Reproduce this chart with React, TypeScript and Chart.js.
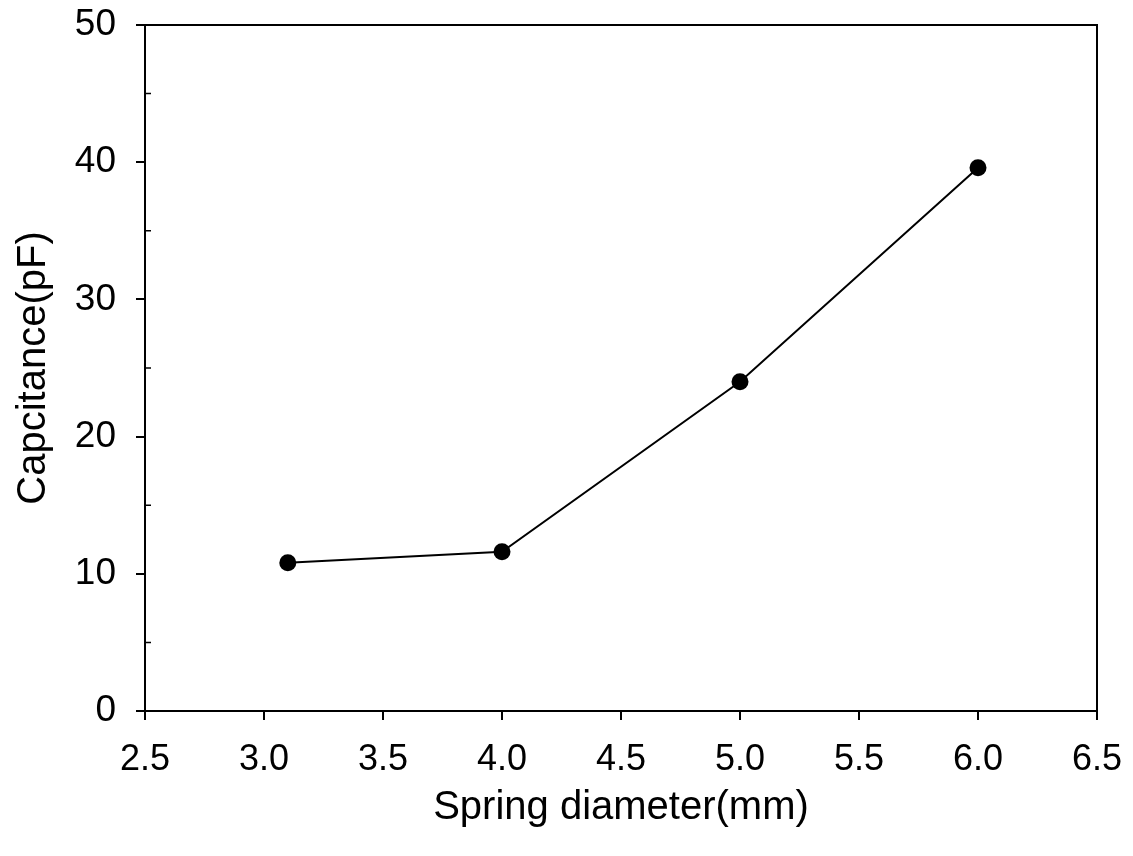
import React, { useEffect, useRef } from "react";
import { Chart, registerables } from "chart.js";

Chart.register(...registerables);

// Spring diameter (mm) vs measured capacitance (pF)
const diameters = [3.1, 4.0, 5.0, 6.0];
const capacitance = [10.8, 11.6, 24.0, 39.6];
const yMinorTicks = [5, 15, 25, 35, 45];

const FONT = "'Liberation Sans', Arial, Helvetica, sans-serif";

// Frame around the plot plus short inward minor ticks on the y axis
const framePlugin = {
  id: "frame",
  afterDraw(chart: any) {
    const { ctx, chartArea, scales } = chart;
    ctx.save();
    ctx.strokeStyle = "#000";
    ctx.lineWidth = 2;
    ctx.strokeRect(
      chartArea.left,
      chartArea.top,
      chartArea.right - chartArea.left,
      chartArea.bottom - chartArea.top
    );
    ctx.lineWidth = 1.5;
    ctx.beginPath();
    for (const v of yMinorTicks) {
      const y = scales.y.getPixelForValue(v);
      ctx.moveTo(chartArea.left, y);
      ctx.lineTo(chartArea.left + 6, y);
    }
    ctx.stroke();
    ctx.restore();
  },
};

const clearPadding = (scale: any) => {
  scale.paddingTop = 0;
  scale.paddingBottom = 0;
  scale.paddingLeft = 0;
  scale.paddingRight = 0;
};

export default function App() {
  const canvasRef = useRef<HTMLCanvasElement | null>(null);

  useEffect(() => {
    if (!canvasRef.current) return;
    const chart = new Chart(canvasRef.current, {
      type: "line",
      data: {
        datasets: [
          {
            data: diameters.map((d, i) => ({ x: d, y: capacitance[i] })),
            borderColor: "#000",
            borderWidth: 2,
            backgroundColor: "#000",
            pointBackgroundColor: "#000",
            pointBorderColor: "#000",
            pointRadius: 8.5,
            pointBorderWidth: 0,
            tension: 0,
          },
        ],
      },
      options: {
        responsive: false,
        animation: false,
        events: [],
        layout: { padding: { top: 25, right: 36, left: 0, bottom: 0 } },
        plugins: {
          legend: { display: false },
          tooltip: { enabled: false },
        },
        scales: {
          x: {
            type: "linear",
            min: 2.5,
            max: 6.5,
            afterFit: (scale: any) => {
              scale.height = 145;
              clearPadding(scale);
            },
            ticks: {
              stepSize: 0.5,
              color: "#000",
              padding: 18,
              maxRotation: 0,
              font: { family: FONT, size: 36 },
              callback: (v: any) => Number(v).toFixed(1),
            },
            grid: {
              drawOnChartArea: false,
              drawTicks: true,
              tickLength: 9,
              color: "#000",
              lineWidth: 2,
            },
            border: { display: true, color: "#000", width: 2 },
            title: {
              display: true,
              text: "Spring diameter(mm)",
              color: "#000",
              font: { family: FONT, size: 40 },
              padding: { top: 0, bottom: 24 },
            },
          },
          y: {
            type: "linear",
            min: 0,
            max: 50,
            afterFit: (scale: any) => {
              scale.width = 145;
              clearPadding(scale);
            },
            ticks: {
              stepSize: 10,
              color: "#000",
              padding: 20,
              font: { family: FONT, size: 37 },
            },
            grid: {
              drawOnChartArea: false,
              drawTicks: true,
              tickLength: 9,
              color: "#000",
              lineWidth: 2,
            },
            border: { display: true, color: "#000", width: 2 },
            title: {
              display: true,
              text: "Capcitance(pF)",
              color: "#000",
              font: { family: FONT, size: 40 },
              padding: { top: 10, bottom: 0 },
            },
          },
        },
      },
      plugins: [framePlugin],
    });
    return () => chart.destroy();
  }, []);

  return (
    <div style={{ position: "absolute", left: 0, top: 0, width: 1133, height: 856, background: "#fff" }}>
      <canvas ref={canvasRef} width={1133} height={856} style={{ display: "block" }} />
    </div>
  );
}
